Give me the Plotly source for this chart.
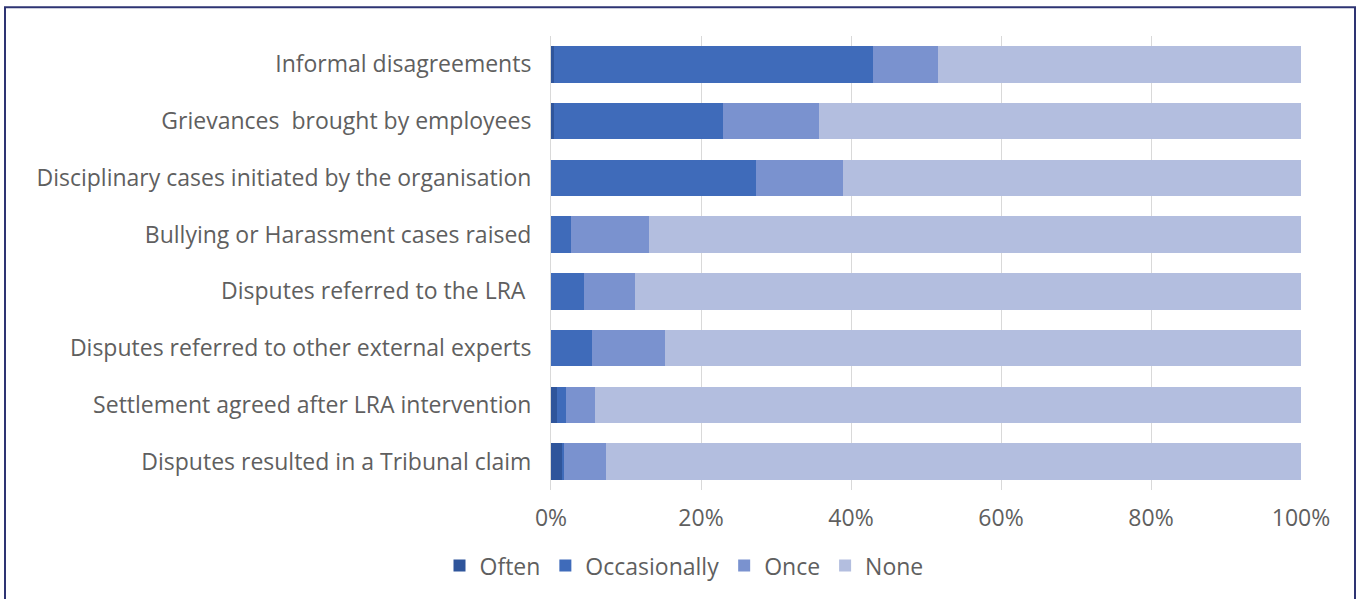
import plotly.graph_objects as go

# Categories (top to bottom as shown)
categories = [
    "Informal disagreements",
    "Grievances  brought by employees",
    "Disciplinary cases initiated by the organisation",
    "Bullying or Harassment cases raised",
    "Disputes referred to the LRA ",
    "Disputes referred to other external experts",
    "Settlement agreed after LRA intervention",
    "Disputes resulted in a Tribunal claim",
]

# Shares (%)
often = [0.4, 0.4, 0.0, 0.0, 0.0, 0.0, 0.8, 1.5]
occasionally = [42.5, 22.5, 27.3, 2.7, 4.4, 5.4, 1.2, 0.2]
once = [8.7, 12.8, 11.6, 10.4, 6.8, 9.8, 3.9, 5.6]
none = [48.4, 64.3, 61.1, 86.9, 88.8, 84.8, 94.1, 92.7]

series = [
    ("Often", often, "#2F559B"),
    ("Occasionally", occasionally, "#3F6BBA"),
    ("Once", once, "#7A92CF"),
    ("None", none, "#B3BEDF"),
]

fig = go.Figure()
for name, vals, col in series:
    fig.add_trace(go.Bar(
        y=categories, x=vals, name=name, orientation="h",
        marker=dict(color=col, line=dict(width=0)),
    ))

# plot area in pixels: x 551..1301, y 36..492
L, R, T, B = 551, 64, 36, 107
W, H = 1365 - L - R, 599 - T - B
FS = 23
GREY = "#5F5F5F"

fig.update_layout(
    barmode="stack",
    bargap=0.36,
    width=1365, height=599,
    margin=dict(l=L, r=R, t=T, b=B, pad=0),
    paper_bgcolor="white", plot_bgcolor="white",
    font=dict(family="Open Sans", size=FS, color=GREY),
    legend=dict(
        orientation="h", x=(684 - L) / W, xanchor="center",
        y=(492 - 568) / H, yanchor="middle", traceorder="normal",
        font=dict(size=FS, color=GREY), itemwidth=30,
    ),
    showlegend=True,
)
fig.update_xaxes(
    range=[0, 100], tickvals=[0, 20, 40, 60, 80, 100],
    ticktext=["0%", "20%", "40%", "60%", "80%", "100%"],
    showgrid=True, gridcolor="#D9D9D9", gridwidth=1,
    zeroline=False, showline=False, ticks="",
    ticklabelstandoff=12,
    tickfont=dict(size=FS, color=GREY),
)
fig.update_yaxes(
    autorange="reversed", showline=True, linecolor="#D9D9D9", linewidth=1,
    ticks="", showgrid=False, ticklabelstandoff=14,
    tickfont=dict(size=FS, color=GREY),
)

# outer frame
fig.add_shape(
    type="rect", xref="paper", yref="paper",
    x0=(5 - L) / W, x1=(1355 - L) / W,
    y0=(492 - 605) / H, y1=(492 - 7) / H,
    line=dict(color="#2E3473", width=2), fillcolor="rgba(0,0,0,0)",
)

fig.write_html(
    "out.html",
    config={"displayModeBar": False},
    post_script="document.body.style.margin='0px';",
)
